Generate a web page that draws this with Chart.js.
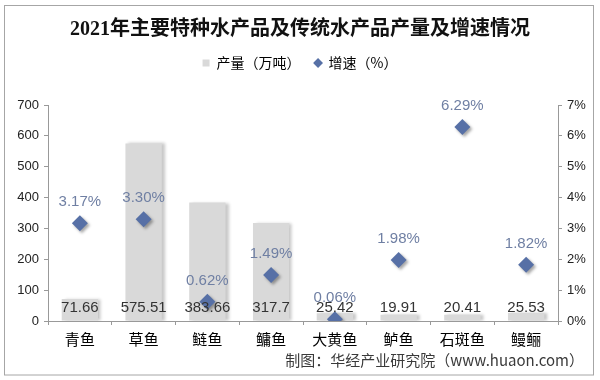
<!DOCTYPE html>
<html>
<head>
<meta charset="utf-8">
<script src="https://cdn.jsdelivr.net/npm/chart.js@4.4.0/dist/chart.umd.min.js"></script>
<style>
  html, body { margin: 0; padding: 0; background: #fff; }
  #wrap { width: 600px; height: 380px; position: relative; }
</style>
</head>
<body>
<div id="wrap"><canvas id="c" width="600" height="380"></canvas></div>
<script>
const titleText = '2021年主要特种水产品及传统水产品产量及增速情况';
const categories = ['青鱼', '草鱼', '鲢鱼', '鳙鱼', '大黄鱼', '鲈鱼', '石斑鱼', '鳗鲡'];
const production = [71.66, 575.51, 383.66, 317.7, 25.42, 19.91, 20.41, 25.53];
const growth = [3.17, 3.30, 0.62, 1.49, 0.06, 1.98, 6.29, 1.82];
const leftTicks = [0, 100, 200, 300, 400, 500, 600, 700];
const rightTicks = [0, 1, 2, 3, 4, 5, 6, 7];
const seriesNames = ['产量（万吨）', '增速（%）'];
const sourceText = '制图：华经产业研究院（www.huaon.com）';

const BAR_COLOR = '#d9d9d9';
const PT_COLOR = '#5770a6';
const AXIS_COLOR = '#999999';
const TICK_FONT = { family: '"Liberation Sans", Arial, sans-serif', size: 13 };

const helperPlugin = {
  id: 'helper',
  afterInit(chart) {
    const lg = chart.legend;
    if (lg) {
      const orig = lg.fit.bind(lg);
      lg.fit = function () { orig(); this.height += 25; };
    }
  },
  beforeDraw(chart) {
    const ctx = chart.ctx;
    ctx.save();
    ctx.fillStyle = '#fff';
    ctx.fillRect(0, 0, chart.width, chart.height);
    ctx.strokeStyle = '#a6a6a6';
    ctx.lineWidth = 1;
    ctx.strokeRect(4.5, 5.5, 589, 369.5);
    ctx.restore();
  },
  beforeDatasetDraw(chart, args) {
    const ctx = chart.ctx;
    ctx.save();
    if (args.meta.type === 'bar') {
      ctx.shadowColor = 'rgba(0,0,0,0.22)';
      ctx.shadowOffsetX = 3;
      ctx.shadowOffsetY = 0;
      ctx.shadowBlur = 3;
    } else {
      ctx.shadowColor = 'rgba(0,0,0,0.35)';
      ctx.shadowOffsetX = 2;
      ctx.shadowOffsetY = 2;
      ctx.shadowBlur = 3;
    }
  },
  afterDatasetDraw(chart) {
    chart.ctx.restore();
  },
  afterDatasetsDraw(chart) {
    const ctx = chart.ctx;
    const area = chart.chartArea;
    ctx.save();
    const barMeta = chart.getDatasetMeta(0);
    ctx.font = '15px "Liberation Sans Narrow", "Liberation Sans", Arial, sans-serif';
    ctx.fillStyle = '#333333';
    ctx.textAlign = 'center';
    ctx.textBaseline = 'middle';
    barMeta.data.forEach((el, i) => {
      ctx.fillText(String(production[i]), el.x, area.bottom - 13);
    });
    const ptMeta = chart.getDatasetMeta(1);
    ctx.fillStyle = '#6f7fa3';
    ptMeta.data.forEach((el, i) => {
      ctx.fillText(growth[i].toFixed(2) + '%', el.x, el.y - 21);
    });
    ctx.restore();
  },
  afterDraw(chart) {
    const ctx = chart.ctx;
    ctx.save();
    ctx.font = '15px "Noto Sans CJK SC", "Liberation Sans", sans-serif';
    ctx.fillStyle = '#3a3a3a';
    ctx.textAlign = 'right';
    ctx.textBaseline = 'middle';
    ctx.fillText(sourceText, 584, 360);
    ctx.restore();
  }
};

new Chart(document.getElementById('c'), {
  data: {
    labels: categories,
    datasets: [
      {
        type: 'bar',
        label: seriesNames[0],
        data: production,
        backgroundColor: BAR_COLOR,
        borderWidth: 0,
        yAxisID: 'y',
        order: 2,
        categoryPercentage: 1,
        barPercentage: 0.57
      },
      {
        type: 'line',
        label: seriesNames[1],
        data: growth,
        yAxisID: 'y1',
        showLine: false,
        pointStyle: 'rectRot',
        pointRadius: 8,
        pointHoverRadius: 8,
        pointBackgroundColor: PT_COLOR,
        pointBorderColor: PT_COLOR,
        pointBorderWidth: 0,
        backgroundColor: PT_COLOR,
        borderColor: PT_COLOR,
        order: 1
      }
    ]
  },
  options: {
    responsive: false,
    animation: false,
    events: [],
    layout: { padding: { top: 0, left: 0, right: 0, bottom: 0 } },
    plugins: {
      tooltip: { enabled: false },
      title: {
        display: true,
        text: titleText,
        color: '#111111',
        font: { family: '"Liberation Serif", "Noto Sans CJK SC", serif', size: 20, weight: 'bold' },
        padding: { top: 18, bottom: 0 }
      },
      legend: {
        display: true,
        position: 'top',
        labels: {
          usePointStyle: true,
          boxWidth: 7,
          boxHeight: 7,
          padding: 14,
          color: '#595959',
          font: { family: '"Noto Sans CJK SC", sans-serif', size: 14 },
          generateLabels() {
            return [
              { text: seriesNames[0], fillStyle: BAR_COLOR, strokeStyle: BAR_COLOR, lineWidth: 0, pointStyle: 'rect', datasetIndex: 0 },
              { text: seriesNames[1], fillStyle: PT_COLOR, strokeStyle: PT_COLOR, lineWidth: 0, pointStyle: 'rectRot', datasetIndex: 1 }
            ];
          }
        }
      }
    },
    scales: {
      x: {
        type: 'category',
        offset: true,
        grid: { display: true, offset: true, drawOnChartArea: false, drawTicks: true, tickLength: 4, color: AXIS_COLOR },
        border: { display: true, color: AXIS_COLOR },
        ticks: {
          color: '#000000',
          padding: 5,
          maxRotation: 0,
          autoSkip: false,
          font: { family: '"Noto Sans CJK SC", sans-serif', size: 15 }
        },
        afterFit(s) { s.height = 59; }
      },
      y: {
        type: 'linear',
        position: 'left',
        min: 0,
        max: 700,
        afterBuildTicks(s) { s.ticks = leftTicks.map(v => ({ value: v })); },
        grid: { display: true, drawOnChartArea: false, drawTicks: true, tickLength: 4, color: AXIS_COLOR },
        border: { display: true, color: AXIS_COLOR },
        ticks: { color: '#222222', padding: 5, font: TICK_FONT },
        afterFit(s) { s.width = 48; }
      },
      y1: {
        type: 'linear',
        position: 'right',
        min: 0,
        max: 7,
        afterBuildTicks(s) { s.ticks = rightTicks.map(v => ({ value: v })); },
        grid: { display: true, drawOnChartArea: false, drawTicks: true, tickLength: 4, color: AXIS_COLOR },
        border: { display: true, color: AXIS_COLOR },
        ticks: { color: '#222222', padding: 5, font: TICK_FONT, callback: v => v + '%' },
        afterFit(s) { s.width = 42; }
      }
    }
  },
  plugins: [helperPlugin]
});
</script>
</body>
</html>
